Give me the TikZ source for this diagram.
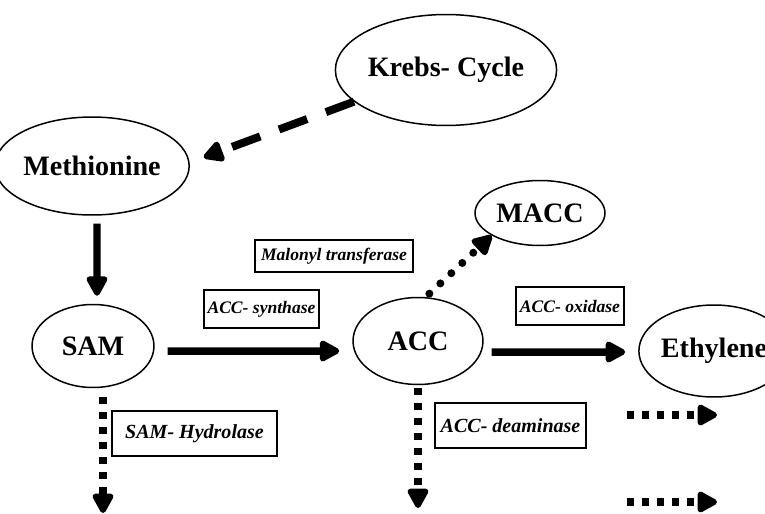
\documentclass[tikz,border=0pt]{standalone}
\usepackage{fontspec}
\setmainfont{Liberation Serif}
\usetikzlibrary{arrows.meta, shapes.geometric}

\begin{document}
\begin{tikzpicture}[x=0.02cm, y=-0.02cm,
  mol/.style={draw, ellipse, inner sep=0pt, line width=0.85pt,
    font=\fontsize{16}{19}\selectfont\bfseries},
  enz/.style={draw, rectangle, inner sep=0pt, line width=0.85pt,
    font=\fontsize{10}{12}\selectfont\bfseries\itshape},
  enzbig/.style={enz, font=\fontsize{11.4}{13}\selectfont\bfseries\itshape},
  tip/.style={-{Triangle[length=0.46cm, width=0.46cm, round=false]}},
  solidarr/.style={tip, line width=0.15cm},
  dasharr/.style={tip, line width=0.16cm, dash pattern=on 0.6cm off 0.4cm},
  squarearr/.style={tip, line width=0.15cm, dash pattern=on 0.14cm off 0.16cm},
  dotarr/.style={tip, line width=0.16cm, line cap=round, dash pattern=on 0pt off 0.3cm}]
\useasboundingbox (0,0) rectangle (765,514);

\node[mol, minimum width=4cm, minimum height=2.22cm] (Kc) at (446,70) {Krebs- Cycle};
\node[mol, minimum width=3.32cm, minimum height=1.96cm] (Met) at (92,166) {Methionine};
\node[mol, minimum width=2.44cm, minimum height=1.66cm] (SAM) at (93,346) {SAM};
\node[mol, minimum width=2.6cm, minimum height=1.74cm] (ACC) at (418,341) {ACC};
\node[mol, minimum width=2.6cm, minimum height=1.3cm] (MACC) at (540,213) {MACC};
\node[mol, minimum width=2.46cm, minimum height=1.84cm] (Eth) at (714,351) {Ethylene};

\node[enz, minimum width=2.3cm, minimum height=0.76cm] (syn) at (261.5,309) {ACC- synthase};
\node[enz, minimum width=3.16cm, minimum height=0.64cm] (mal) at (334,256) {Malonyl transferase};
\node[enz, minimum width=2.16cm, minimum height=0.76cm] (oxi) at (570,306) {ACC- oxidase};
\node[enzbig, minimum width=3.3cm, minimum height=0.9cm] (hyd) at (194.5,433.5) {SAM- Hydrolase};
\node[enzbig, minimum width=3.02cm, minimum height=0.9cm] (dea) at (510.5,425.5) {ACC- deaminase};

\coordinate (samOut) at (103,513);
\coordinate (accOut) at (418,508);
\coordinate (aIn) at (627,415);
\coordinate (aOut) at (717,415);
\coordinate (bIn) at (627,502);
\coordinate (bOut) at (717,502);

\path[]
(Kc.199) edge[dasharr, shorten >=0.3cm] (Met.2)
([xshift=0.1cm]Met.south) edge[solidarr, shorten <=0.16cm, shorten >=0.16cm] ([xshift=0.08cm]SAM.north)
([yshift=-0.1cm]SAM.east) edge[solidarr, shorten <=0.26cm, shorten >=0.26cm] ([yshift=-0.2cm]ACC.west)
(ACC.80) edge[dotarr, shorten <=0.1cm] (MACC.205)
([yshift=-0.22cm]ACC.east) edge[solidarr, shorten <=0.16cm, shorten >=0.26cm] ([yshift=-0.02cm]Eth.west)
(SAM.south -| samOut) edge[squarearr, shorten <=0.18cm] (samOut)
(ACC.south) edge[squarearr, shorten <=0.06cm] (accOut)
(aIn) edge[squarearr] (aOut)
(bIn) edge[squarearr] (bOut)
;
\end{tikzpicture}
\end{document}
